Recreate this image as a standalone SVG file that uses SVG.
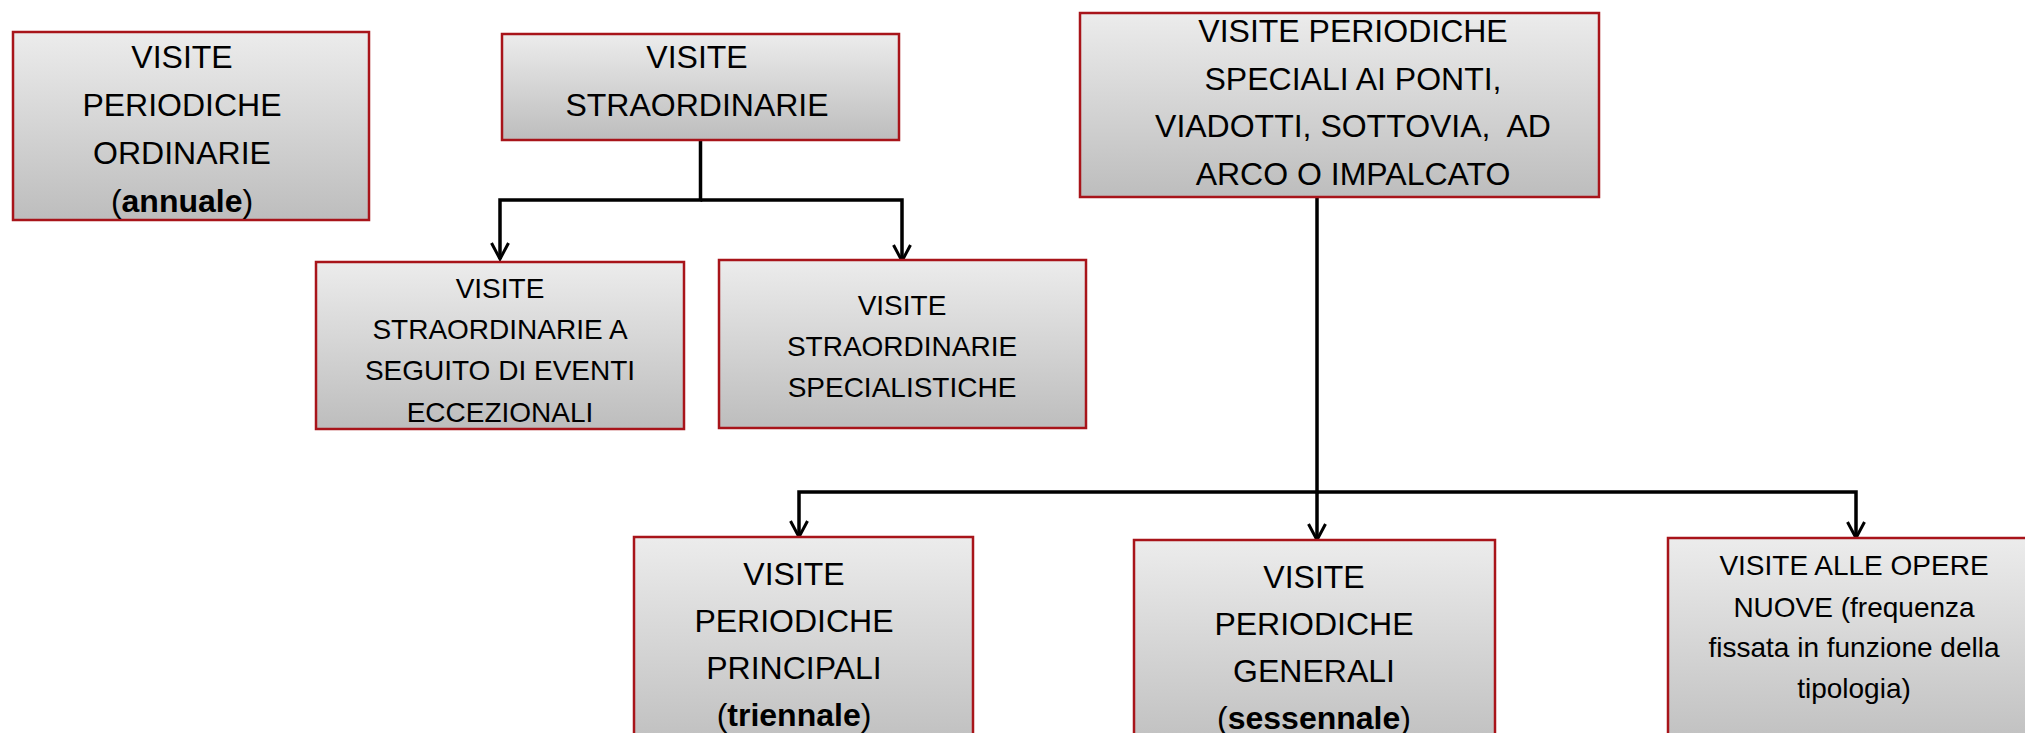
<svg xmlns="http://www.w3.org/2000/svg" width="2025" height="733" viewBox="0 0 2025 733">
<style>
.box{fill:url(#g);stroke:#a8141a;stroke-width:2.5}
.t{font-family:"Liberation Sans",Arial,sans-serif;fill:#000;text-anchor:middle}
.l{font-size:32px}
.s{font-size:28px}
.c{fill:none;stroke:#000;stroke-width:3.5}
b,.b{font-weight:bold}
</style>
<defs>
<linearGradient id="g" x1="0" y1="0" x2="0" y2="1">
<stop offset="0" stop-color="#ececec"/>
<stop offset="1" stop-color="#bdbdbd"/>
</linearGradient>
<marker id="arr" viewBox="0 0 20 20" refX="18" refY="10" markerWidth="20" markerHeight="20" markerUnits="userSpaceOnUse" orient="auto">
<path d="M2,1.5 L18,10 L2,18.5" fill="none" stroke="#000" stroke-width="3"/>
</marker>
</defs>
<rect width="2025" height="733" fill="#fff"/>
<g id="connectors">
<path class="c" d="M700.5,140 V200 H500 V259" marker-end="url(#arr)"/>
<path class="c" d="M700.5,200 H902 V261" marker-end="url(#arr)"/>
<path class="c" d="M1317,197 V492 H799 V537" marker-end="url(#arr)"/>
<path class="c" d="M1317,492 V540" marker-end="url(#arr)"/>
<path class="c" d="M1317,492 H1856 V538" marker-end="url(#arr)"/>
</g>
<g id="n-ordinarie">
<rect class="box" x="13" y="32" width="356" height="188"/>
<text class="t l" x="182" y="68">VISITE</text>
<text class="t l" x="182" y="116">PERIODICHE</text>
<text class="t l" x="182" y="164">ORDINARIE</text>
<text class="t l" x="182" y="212">(<tspan class="b">annuale</tspan>)</text>
</g>
<g id="n-straordinarie">
<rect class="box" x="502" y="34" width="397" height="106"/>
<text class="t l" x="697" y="68">VISITE</text>
<text class="t l" x="697" y="116">STRAORDINARIE</text>
</g>
<g id="n-eventi">
<rect class="box" x="316" y="262" width="368" height="167"/>
<text class="t s" x="500" y="298">VISITE</text>
<text class="t s" x="500" y="339">STRAORDINARIE A</text>
<text class="t s" x="500" y="380">SEGUITO DI EVENTI</text>
<text class="t s" x="500" y="422">ECCEZIONALI</text>
</g>
<g id="n-specialistiche">
<rect class="box" x="719" y="260" width="367" height="168"/>
<text class="t s" x="902" y="315">VISITE</text>
<text class="t s" x="902" y="356">STRAORDINARIE</text>
<text class="t s" x="902" y="397">SPECIALISTICHE</text>
</g>
<g id="n-speciali">
<rect class="box" x="1080" y="13" width="519" height="184"/>
<text class="t l" x="1353" y="42">VISITE PERIODICHE</text>
<text class="t l" x="1353" y="90">SPECIALI AI PONTI,</text>
<text class="t l" x="1353" y="137" xml:space="preserve">VIADOTTI, SOTTOVIA,  AD</text>
<text class="t l" x="1353" y="185">ARCO O IMPALCATO</text>
</g>
<g id="n-principali">
<rect class="box" x="634" y="537" width="339" height="220"/>
<text class="t l" x="794" y="585">VISITE</text>
<text class="t l" x="794" y="632">PERIODICHE</text>
<text class="t l" x="794" y="679">PRINCIPALI</text>
<text class="t l" x="794" y="726">(<tspan class="b">triennale</tspan>)</text>
</g>
<g id="n-generali">
<rect class="box" x="1134" y="540" width="361" height="220"/>
<text class="t l" x="1314" y="588">VISITE</text>
<text class="t l" x="1314" y="635">PERIODICHE</text>
<text class="t l" x="1314" y="682">GENERALI</text>
<text class="t l" x="1314" y="729">(<tspan class="b">sessennale</tspan>)</text>
</g>
<g id="n-nuove">
<rect class="box" x="1668" y="538" width="380" height="220"/>
<text class="t s" x="1854" y="575">VISITE ALLE OPERE</text>
<text class="t s" x="1854" y="617">NUOVE (frequenza</text>
<text class="t s" x="1854" y="657">fissata in funzione della</text>
<text class="t s" x="1854" y="698">tipologia)</text>
</g>
</svg>
